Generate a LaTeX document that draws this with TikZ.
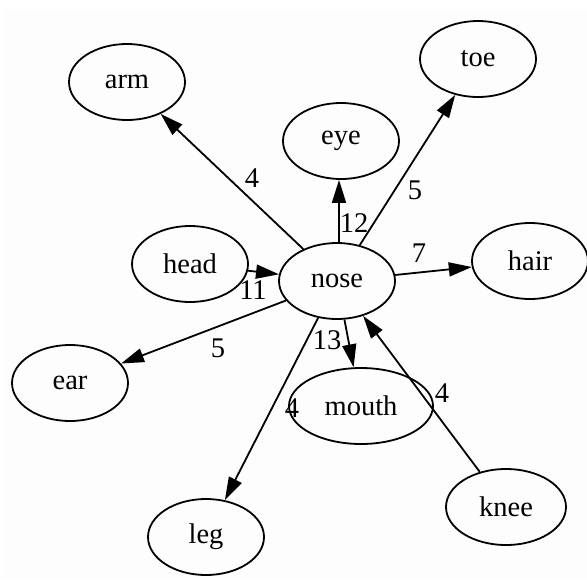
\documentclass[tikz,border=0pt]{standalone}
\usepackage{fontspec}
\setmainfont{Liberation Serif}
\usetikzlibrary{shapes.geometric,arrows.meta}
\definecolor{paper}{HTML}{FCFDFC}
\tikzset{
  vert/.style={draw, ellipse, line width=1.8pt, inner sep=0pt,
               minimum width=116pt, minimum height=76pt,
               font=\fontsize{28.5}{30}\selectfont},
  wt/.style={inner sep=0pt, font=\fontsize{28.5}{30}\selectfont},
  link/.style={line width=1.8pt, -{Triangle[length=23pt,width=14pt]}}
}
\begin{document}
\begin{tikzpicture}[x=1pt,y=-1pt]
  \useasboundingbox (0,0) rectangle (587,579);
  \fill[white] (0,0) rectangle (587,579);
  \fill[paper] (3,10) rectangle (587,579);

  % vertices
  \node[vert] (nose)  at (337,281) {nose};
  \node[vert] (arm)   at (127,82)  {arm};
  \node[vert] (toe)   at (478,59)  {toe};
  \node[vert] (eye)   at (341,141) {eye};
  \node[vert] (head)  at (190,264) {head};
  \node[vert] (hair)  at (530,261) {hair};
  \node[vert] (ear)   at (70,383)  {ear};
  \node[vert, minimum width=144pt] (mouth) at (361,406) {mouth};
  \node[vert, minimum width=120pt] (knee)  at (506,507) {knee};
  \node[vert] (leg)   at (206,537) {leg};

  % weighted edges
  \draw[link] (nose) -- (arm);
  \draw[link] (nose.north) ++(2,0) coordinate (eyefoot) -- (eye.south -| eyefoot);
  \draw[link] (nose) -- (toe);
  \draw[link] (nose) -- (hair);
  \draw[link] (head) -- (nose);
  \draw[link] (nose) -- (ear);
  \draw[link] (nose) -- (mouth);
  \draw[link] (nose) -- (leg);
  \draw[link] (knee) -- (nose);

  % edge weights
  \node[wt] (w-arm)   at (252,178) {4};
  \node[wt] (w-eye)   at (354,223) {12};
  \node[wt] (w-toe)   at (415,190) {5};
  \node[wt] (w-hair)  at (419,253) {7};
  \node[wt] (w-head)  at (253,290) {11};
  \node[wt] (w-ear)   at (218,348) {5};
  \node[wt] (w-mouth) at (327,340) {13};
  \node[wt] (w-leg)   at (292,408) {4};
  \node[wt] (w-knee)  at (442,393) {4};
\end{tikzpicture}
\end{document}
